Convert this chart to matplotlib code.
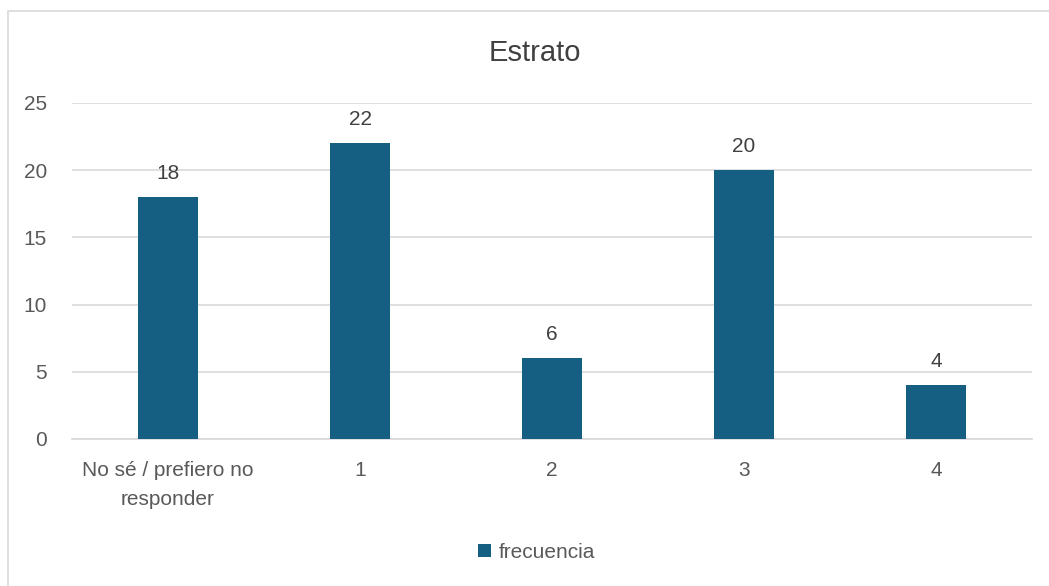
import matplotlib
matplotlib.use("Agg")
import matplotlib.pyplot as plt
from matplotlib.patches import Rectangle

categories = ["No sé / prefiero no\nresponder", "1", "2", "3", "4"]
frecuencia = [18, 22, 6, 20, 4]
y_ticks = [0, 5, 10, 15, 20, 25]

BAR = "#156082"
TXT = "#595959"
GRID = "#D9D9D9"

plt.rcParams["font.family"] = ["Liberation Sans", "DejaVu Sans"]

fig = plt.figure(figsize=(10.49, 5.86), dpi=100)
ax = fig.add_axes([72 / 1049, 1 - 439 / 586, 960 / 1049, 336 / 586])

# chart border (cropped on right/bottom like the screenshot)
fig.patches.append(Rectangle((8 / 1049, -0.05), 1.1, 1 - 11 / 586 + 0.05,
                             transform=fig.transFigure, fill=False,
                             edgecolor=GRID, linewidth=1.2))

x = list(range(len(categories)))
bars = ax.bar(x, frecuencia, width=0.3125, color=BAR, label="frecuencia", zorder=3)
for b, v in zip(bars, frecuencia):
    ax.annotate(str(v), (b.get_x() + b.get_width() / 2, v), xytext=(0, 17),
                textcoords="offset points", ha="center", va="center",
                fontsize=15, color="#404040")

ax.set_xlim(-0.5, len(categories) - 0.5)
ax.set_ylim(0, 25)
ax.set_yticks(y_ticks)
ax.set_xticks(x)
ax.set_xticklabels(categories, linespacing=1.65)
ax.yaxis.grid(True, color=GRID, linewidth=1.2, zorder=0)
for s in ["top", "right", "left"]:
    ax.spines[s].set_visible(False)
ax.spines["bottom"].set_color(GRID)
ax.spines["bottom"].set_linewidth(1.2)
ax.tick_params(axis="both", length=0, labelsize=15, labelcolor=TXT)
ax.tick_params(axis="y", pad=18)
ax.tick_params(axis="x", pad=16)

fig.text(535 / 1049, 1 - 53 / 586, "Estrato", ha="center", va="center",
         fontsize=21, color="#404040")

fig.legend(loc="center", bbox_to_anchor=(537 / 1049, 1 - 552 / 586), frameon=False,
           fontsize=15, labelcolor=TXT, handlelength=0.6, handleheight=0.6,
           handletextpad=0.4)

fig.savefig("out.png", dpi=100)
